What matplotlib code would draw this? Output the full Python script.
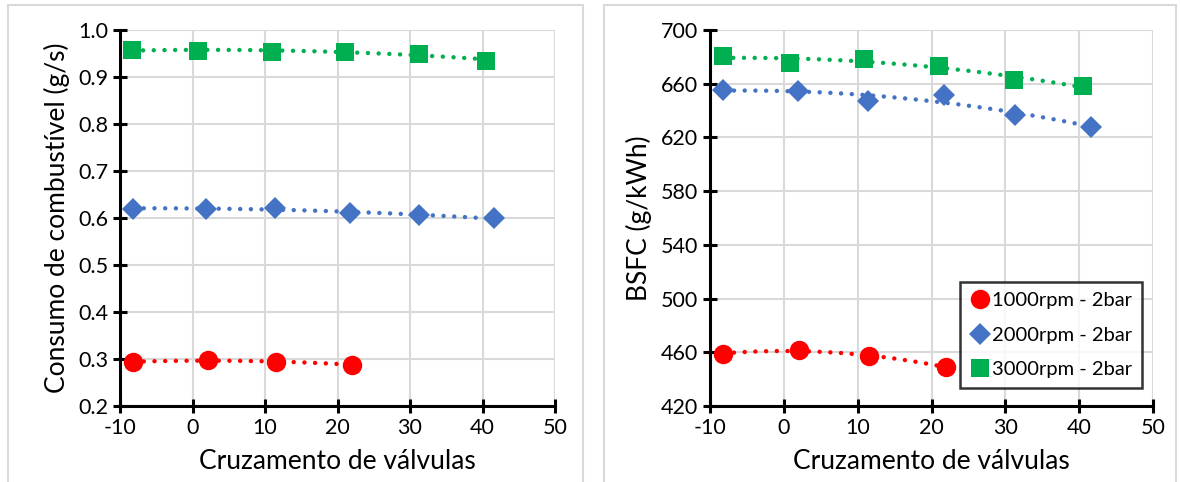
import numpy as np
import matplotlib
matplotlib.use("Agg")
import matplotlib.pyplot as plt
from matplotlib.patches import Rectangle

plt.rcParams["font.family"] = ["Lato", "DejaVu Sans"]
plt.rcParams["axes.unicode_minus"] = False

# valve overlap (deg) per series
x_1000 = [-8.2, 2.1, 11.5, 22.0]
x_2000 = [-8.2, 1.9, 11.4, 21.7, 31.3, 41.6]
x_3000 = [-8.3, 0.8, 10.9, 21.0, 31.2, 40.5]

# fuel consumption (g/s)
fuel_1000 = [0.294, 0.297, 0.294, 0.288]
fuel_2000 = [0.620, 0.620, 0.621, 0.610, 0.607, 0.599]
fuel_3000 = [0.958, 0.956, 0.954, 0.954, 0.950, 0.935]

# BSFC (g/kWh)
bsfc_1000 = [459.0, 461.5, 457.0, 449.0]
bsfc_2000 = [655.5, 654.5, 647.0, 651.5, 636.5, 628.0]
bsfc_3000 = [680.5, 675.5, 678.5, 673.5, 663.0, 658.0]

labels = ["1000rpm - 2bar", "2000rpm - 2bar", "3000rpm - 2bar"]
colors = ["#ff0000", "#4472c4", "#00b050"]
markers = ["o", "D", "s"]
msizes = [14, 11, 13]

xs = [x_1000, x_2000, x_3000]


def draw_panel(ax, ys, ylim, yticks, ylabel, fmt):
    for x, y, c, m, ms, lab in zip(xs, ys, colors, markers, msizes, labels):
        # quadratic trendline, as in the spreadsheet
        coef = np.polyfit(x, y, 2)
        xx = np.linspace(min(x), max(x), 100)
        ax.plot(xx, np.polyval(coef, xx), color=c, lw=3.2,
                linestyle=(0, (0.01, 2.4)), dash_capstyle="round", zorder=2)
        ax.plot(x, y, linestyle="none", marker=m, color=c, markersize=ms,
                markeredgewidth=0, label=lab, zorder=3)

    ax.set_xlim(-10, 50)
    ax.set_ylim(*ylim)
    ax.set_xticks(range(-10, 51, 10))
    ax.set_yticks(yticks)
    ax.set_yticklabels([fmt.format(v) for v in yticks])
    ax.grid(color="#d9d9d9", lw=1.5, zorder=0)
    ax.set_axisbelow(True)
    for s in ["top", "right"]:
        ax.spines[s].set_visible(False)
    for s in ["left", "bottom"]:
        ax.spines[s].set_linewidth(2.2)
    ax.tick_params(direction="inout", length=10, width=2.2, labelsize=15.5)
    ax.set_xlabel("Cruzamento de válvulas", fontsize=19, labelpad=8)
    ax.set_ylabel(ylabel, fontsize=19, labelpad=6)


fig = plt.figure(figsize=(11.8, 4.82), dpi=100)

# chart area borders
fig.patches.append(Rectangle((8 / 1180, -0.01), 575 / 1180, 1 - 5 / 482 + 0.01,
                             transform=fig.transFigure, fill=False,
                             edgecolor="#d9d9d9", lw=1.5))
fig.patches.append(Rectangle((604 / 1180, -0.01), 572 / 1180, 1 - 5 / 482 + 0.01,
                             transform=fig.transFigure, fill=False,
                             edgecolor="#d9d9d9", lw=1.5))

ax1 = fig.add_axes([120 / 1180, 1 - 406 / 482, 435 / 1180, 376 / 482])
draw_panel(ax1, [fuel_1000, fuel_2000, fuel_3000], (0.2, 1.0),
           np.round(np.arange(0.2, 1.01, 0.1), 1),
           "Consumo de combustível (g/s)", "{:.1f}")

ax2 = fig.add_axes([710 / 1180, 1 - 406 / 482, 443 / 1180, 376 / 482])
draw_panel(ax2, [bsfc_1000, bsfc_2000, bsfc_3000], (420, 700),
           list(range(420, 701, 40)), "BSFC (g/kWh)", "{:.0f}")

leg = ax2.legend(loc="lower right", bbox_to_anchor=(0.975, 0.048),
                 fontsize=14.5, frameon=True, fancybox=False, edgecolor="black",
                 handletextpad=0.1, handlelength=1.0, borderpad=0.5,
                 labelspacing=0.85, borderaxespad=0)
leg.get_frame().set_linewidth(1.8)

fig.savefig("out.png", dpi=100)
